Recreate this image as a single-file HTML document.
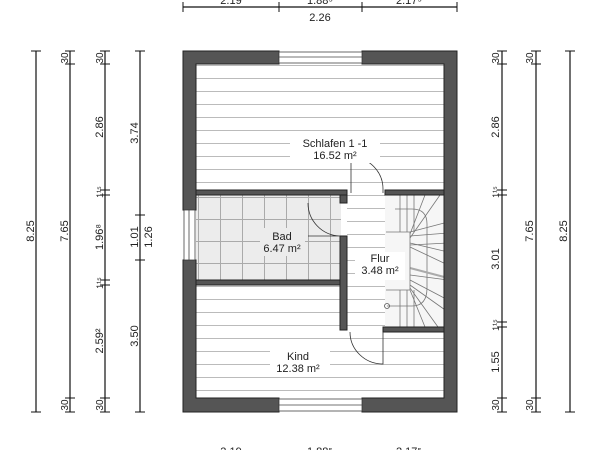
<!DOCTYPE html><html><head><style>body{margin:0;background:#fff}svg{display:block}text{font-family:"Liberation Sans",sans-serif;fill:#222}</style></head><body>
<svg width="600" height="450" viewBox="0 0 600 450" xmlns="http://www.w3.org/2000/svg">
<defs>
<pattern id="pl" width="10" height="13" patternUnits="userSpaceOnUse"><rect width="10" height="13" fill="#fff"/><line x1="0" y1="0.5" x2="10" y2="0.5" stroke="#bbb" stroke-width="1"/></pattern>
<pattern id="tl" x="198" y="197" width="22" height="22" patternUnits="userSpaceOnUse"><rect width="22" height="22" fill="#ececec"/><path d="M0 0.5H22M0.5 0V22" stroke="#aaa" stroke-width="1"/></pattern>
</defs>
<rect x="196" y="64" width="252" height="126" fill="url(#pl)"/>
<rect x="196" y="195" width="145" height="85" fill="url(#tl)"/>
<rect x="347" y="190" width="38" height="142" fill="url(#pl)"/>
<rect x="196" y="285" width="252" height="113" fill="url(#pl)"/>
<rect x="385" y="195" width="63" height="132" fill="#f6f6f6"/>
<g stroke="#777" stroke-width="0.8" fill="none">
<path d="M400 195V232M407 195V232M414 195V232M400 232H410M386 232H410"/>
<path d="M410 232L448 222M410 236L448 233M410 243L448 252M410 247L448 265M410 238L440 195M410 234L425 195M410 245L448 243M410 280L448 300M410 285L448 312M410 288L438 327M410 290L425 327M410 275L448 280"/>
<path d="M400 290V327M407 290V327M414 290V327M386 290H410"/>
<path d="M395 209H412Q427 209 427 224V288Q427 306 412 306H387"/>
<line x1="410" y1="268" x2="448" y2="278" stroke="#aaa" stroke-width="2"/>
<line x1="410" y1="232" x2="410" y2="290"/>
</g>
<circle cx="387" cy="306" r="2.5" fill="none" stroke="#555" stroke-width="0.8"/>
<g fill="#555" stroke="#222" stroke-width="1">
<path d="M183 51H279V64H196V210H183Z"/>
<path d="M362 51H457V412H362V398H444V64H362Z"/>
<path d="M183 260H196V398H279V412H183Z"/>
<rect x="196" y="190" width="151" height="5"/>
<rect x="340" y="195" width="7" height="8"/>
<rect x="340" y="236" width="7" height="94"/>
<rect x="385" y="190" width="59" height="5"/>
<rect x="196" y="280" width="144" height="5"/>
<rect x="383" y="327" width="61" height="5"/>
</g>
<g fill="#fff" stroke="#444" stroke-width="0.8">
<rect x="279" y="52" width="83" height="11"/><line x1="279" y1="57" x2="362" y2="57"/>
<rect x="279" y="399" width="83" height="12"/><line x1="279" y1="405" x2="362" y2="405"/>
<rect x="184" y="210" width="11" height="50"/><line x1="189" y1="210" x2="189" y2="260"/>
</g>
<g fill="none" stroke="#333" stroke-width="0.8">
<path d="M351 193V157A32 32 0 0 1 383 189V193"/>
<path d="M308 203A33 33 0 0 0 340 236H308"/>
<path d="M383 332V364A33 32 0 0 1 350 332"/>
</g>
<g font-size="11" text-anchor="middle">
<rect x="290" y="133" width="90" height="30" fill="#fff"/>
<text x="335" y="147">Schlafen 1 -1</text><text x="335" y="159">16.52 m²</text>
<rect x="260" y="228" width="45" height="28" fill="#ececec"/>
<text x="282" y="240">Bad</text><text x="282" y="252">6.47 m²</text>
<rect x="355" y="252" width="50" height="28" fill="#fff"/>
<text x="380" y="262">Flur</text><text x="380" y="274">3.48 m²</text>
<rect x="270" y="348" width="60" height="28" fill="#fff"/>
<text x="298" y="360">Kind</text><text x="298" y="372">12.38 m²</text>
</g>
<g stroke="#111" stroke-width="1.2">
<line x1="36" y1="51" x2="36" y2="412"/><line x1="70" y1="51" x2="70" y2="412"/><line x1="105" y1="51" x2="105" y2="412"/><line x1="140" y1="51" x2="140" y2="412"/>
<line x1="502" y1="51" x2="502" y2="412"/><line x1="536" y1="51" x2="536" y2="412"/><line x1="570" y1="51" x2="570" y2="412"/>
<line x1="183" y1="7" x2="457" y2="7"/>
</g>
<g stroke="#111" stroke-width="1">
<path d="M31 51H41M31 412H41M65 51H75M65 64H75M65 398H75M65 412H75M100 51H110M100 64H110M100 190H110M100 195H110M100 280H110M100 285H110M100 398H110M100 412H110M135 51H145M135 215H145M135 260H145M135 412H145"/>
<path d="M497 51H507M497 64H507M497 190H507M497 195H507M497 322H507M497 327H507M497 398H507M497 412H507M531 51H541M531 64H541M531 398H541M531 412H541M565 51H575M565 412H575"/>
<path d="M183 2V12M279 2V12M362 2V12M457 2V12"/>
</g>
<g font-size="11" text-anchor="middle">
<text transform="translate(34,231) rotate(-90)">8.25</text>
<text transform="translate(68,231) rotate(-90)">7.65</text>
<text transform="translate(68,58) rotate(-90)" font-size="10">30</text>
<text transform="translate(68,405) rotate(-90)" font-size="10">30</text>
<text transform="translate(103,58) rotate(-90)" font-size="10">30</text>
<text transform="translate(103,127) rotate(-90)">2.86</text>
<text transform="translate(103,192) rotate(-90)" font-size="9">1¹⁵</text>
<text transform="translate(103,237) rotate(-90)">1.96⁸</text>
<text transform="translate(103,283) rotate(-90)" font-size="9">1¹⁵</text>
<text transform="translate(103,341) rotate(-90)">2.59²</text>
<text transform="translate(103,405) rotate(-90)" font-size="10">30</text>
<text transform="translate(138,133) rotate(-90)">3.74</text>
<text transform="translate(138,237) rotate(-90)">1.01</text>
<text transform="translate(152,237) rotate(-90)">1.26</text>
<text transform="translate(138,336) rotate(-90)">3.50</text>
<text transform="translate(499,58) rotate(-90)" font-size="10">30</text>
<text transform="translate(499,127) rotate(-90)">2.86</text>
<text transform="translate(499,192) rotate(-90)" font-size="9">1¹⁵</text>
<text transform="translate(499,259) rotate(-90)">3.01</text>
<text transform="translate(499,325) rotate(-90)" font-size="9">1¹⁵</text>
<text transform="translate(499,362) rotate(-90)">1.55</text>
<text transform="translate(499,405) rotate(-90)" font-size="10">30</text>
<text transform="translate(533,58) rotate(-90)" font-size="10">30</text>
<text transform="translate(533,231) rotate(-90)">7.65</text>
<text transform="translate(533,405) rotate(-90)" font-size="10">30</text>
<text transform="translate(567,231) rotate(-90)">8.25</text>
<text x="231" y="4">2.19</text><text x="320" y="4">1.88⁵</text><text x="409" y="4">2.17⁵</text>
<text x="320" y="21">2.26</text>
<text x="231" y="455">2.19</text><text x="320" y="455">1.88⁵</text><text x="409" y="455">2.17⁵</text>
</g>
</svg></body></html>
